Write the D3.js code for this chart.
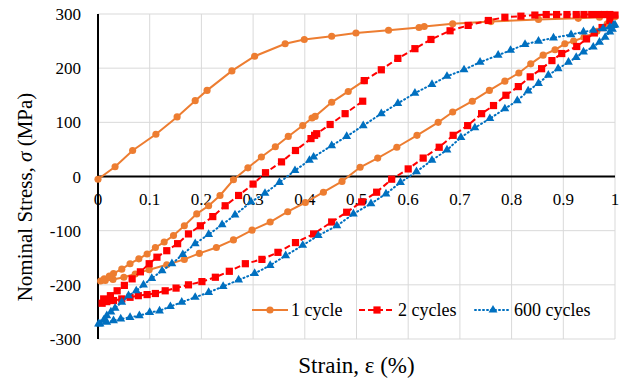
<!DOCTYPE html>
<html>
<head>
<meta charset="utf-8">
<script src="https://cdn.jsdelivr.net/npm/d3@7"></script>
<style>
  body { margin: 0; background: #fff; }
  text { font-family: "Liberation Serif", "Times New Roman", serif; fill: #000; }
</style>
</head>
<body>
<div id="chart-container"></div>
<script>
// 1 cycle: loading, unloading, reloading
const cycle1Strain = [0, 0.033, 0.067, 0.112, 0.153, 0.188, 0.211, 0.259, 0.303, 0.362, 0.399, 0.452, 0.499, 0.562, 0.621, 0.631, 0.686, 0.76, 0.852, 0.929, 0.97, 1.0,
  0.985, 0.965, 0.94, 0.92, 0.903, 0.884, 0.861, 0.837, 0.814, 0.787, 0.757, 0.724, 0.686, 0.658, 0.617, 0.578, 0.541, 0.507, 0.472, 0.436, 0.401, 0.367, 0.333, 0.298, 0.262, 0.229, 0.196, 0.167, 0.133, 0.099, 0.072, 0.05, 0.029, 0.014, 0.005,
  0.012, 0.022, 0.03, 0.046, 0.062, 0.079, 0.095, 0.111, 0.128, 0.146, 0.167, 0.191, 0.214, 0.236, 0.262, 0.29, 0.316, 0.343, 0.368, 0.396, 0.414, 0.42, 0.452, 0.484, 0.515];
const cycle1Stress = [-5, 18, 48, 78, 110, 140, 159, 195, 222, 245, 253, 259, 265, 270, 275, 277, 282, 286, 290, 292, 294, 295,
  282, 268, 257, 250, 245, 234, 224, 208, 191, 176, 159, 139, 119, 100, 76, 54, 34, 17, -9, -29, -48, -65, -84, -99, -117, -131, -142, -153, -163, -172, -180, -186, -190, -192, -193,
  -189, -184, -179, -171, -161, -152, -143, -131, -121, -109, -91, -69, -54, -35, -6, 16, 36, 55, 74, 94, 108, 111, 137, 157, 177];

// 2 cycles: continued loading, unloading, reloading
const cycle2Strain = [0.515, 0.548, 0.58, 0.613, 0.644, 0.681, 0.716, 0.755, 0.787, 0.818, 0.845, 0.867, 0.887, 0.907, 0.925, 0.94, 0.955, 0.968, 0.98, 0.99, 1.0,
  0.99, 0.975, 0.96, 0.945, 0.926, 0.897, 0.878, 0.858, 0.836, 0.813, 0.789, 0.765, 0.742, 0.715, 0.687, 0.66, 0.629, 0.6, 0.568, 0.539, 0.51, 0.481, 0.452, 0.417, 0.382, 0.348, 0.317, 0.285, 0.254, 0.227, 0.201, 0.175, 0.151, 0.13, 0.111, 0.095, 0.078, 0.062, 0.046, 0.03, 0.017, 0.008,
  0.011, 0.024, 0.037, 0.051, 0.066, 0.082, 0.099, 0.114, 0.133, 0.154, 0.175, 0.198, 0.222, 0.246, 0.272, 0.3, 0.324, 0.355, 0.382, 0.412, 0.419, 0.423, 0.449, 0.478, 0.512];
const cycle2Stress = [177, 197, 218, 236, 253, 269, 279, 288, 294, 296, 298, 299, 299, 299, 299, 299, 299, 299, 299, 299, 298,
  288, 275, 265, 254, 240, 227, 214, 199, 184, 166, 150, 131, 116, 94, 76, 54, 34, 14, -5, -29, -47, -66, -84, -106, -122, -140, -153, -161, -175, -186, -194, -200, -206, -211, -216, -218, -220, -223, -226, -229, -231, -234,
  -226, -220, -211, -201, -189, -176, -161, -149, -137, -124, -106, -91, -74, -54, -35, -14, 7, 27, 48, 70, 76, 79, 96, 116, 139];

// 600 cycles: stabilised loop
const cycle600Strain = [0.001, 0.011, 0.017, 0.025, 0.033, 0.046, 0.059, 0.074, 0.088, 0.104, 0.124, 0.143, 0.164, 0.188, 0.214, 0.24, 0.265, 0.296, 0.323, 0.351, 0.381, 0.409, 0.417, 0.452, 0.481, 0.513, 0.548, 0.58, 0.613, 0.646, 0.675, 0.708, 0.739, 0.774, 0.798, 0.826, 0.852, 0.881, 0.915, 0.939, 0.958, 0.977, 0.99, 0.997, 1.0,
  0.995, 0.99, 0.981, 0.97, 0.958, 0.939, 0.925, 0.91, 0.89, 0.871, 0.852, 0.832, 0.811, 0.787, 0.758, 0.729, 0.702, 0.675, 0.646, 0.616, 0.585, 0.557, 0.528, 0.494, 0.462, 0.426, 0.396, 0.363, 0.333, 0.303, 0.272, 0.242, 0.214, 0.188, 0.162, 0.14, 0.119, 0.1, 0.08, 0.062, 0.044, 0.03, 0.017, 0.004];
const cycle600Stress = [-272, -265, -257, -250, -243, -232, -220, -211, -200, -188, -174, -161, -144, -124, -107, -89, -71, -47, -31, -11, 11, 30, 36, 57, 74, 94, 116, 135, 154, 170, 185, 197, 211, 224, 233, 244, 250, 256, 262, 267, 270, 273, 276, 279, 280,
  272, 267, 257, 248, 239, 230, 220, 211, 199, 187, 172, 158, 140, 125, 107, 90, 72, 49, 30, 9, -11, -32, -50, -69, -91, -109, -127, -146, -164, -179, -191, -203, -214, -223, -232, -240, -248, -251, -257, -260, -263, -266, -269, -272];

const xTicks = [0, 0.1, 0.2, 0.3, 0.4, 0.5, 0.6, 0.7, 0.8, 0.9, 1];
const yTicks = [-300, -200, -100, 0, 100, 200, 300];
const seriesNames = ["1 cycle", "2 cycles", "600 cycles"];

const width = 626, height = 380;
const margin = { top: 14, right: 11, bottom: 41, left: 98 };

const svg = d3.select("#chart-container").append("svg")
  .attr("width", width)
  .attr("height", height);

const x = d3.scaleLinear().domain([0, 1]).range([margin.left, width - margin.right]);
const y = d3.scaleLinear().domain([-300, 300]).range([height - margin.bottom, margin.top]);

// grid
svg.append("g").selectAll("line.v").data(xTicks).join("line")
  .attr("x1", d => x(d)).attr("x2", d => x(d))
  .attr("y1", y(300)).attr("y2", y(-300))
  .attr("stroke", "#d9d9d9").attr("stroke-width", 1);
svg.append("g").selectAll("line.h").data(yTicks).join("line")
  .attr("x1", x(0)).attr("x2", x(1))
  .attr("y1", d => y(d)).attr("y2", d => y(d))
  .attr("stroke", "#d9d9d9").attr("stroke-width", 1);

// axes (x axis crosses at stress = 0)
svg.append("line")
  .attr("x1", x(0)).attr("x2", x(1)).attr("y1", y(0)).attr("y2", y(0))
  .attr("stroke", "#000").attr("stroke-width", 2);
svg.append("line")
  .attr("x1", x(0)).attr("x2", x(0)).attr("y1", y(300)).attr("y2", y(-300))
  .attr("stroke", "#000").attr("stroke-width", 2);

// tick labels
svg.append("g").selectAll("text").data(xTicks).join("text")
  .attr("x", d => x(d)).attr("y", y(0) + 28)
  .attr("text-anchor", "middle").attr("font-size", 17)
  .text(d => String(d));
svg.append("g").selectAll("text").data(yTicks).join("text")
  .attr("x", x(0) - 17).attr("y", d => y(d) + 6)
  .attr("text-anchor", "end").attr("font-size", 17)
  .text(d => String(d));

// axis titles
svg.append("text")
  .attr("x", (x(0) + x(1)) / 2).attr("y", 373)
  .attr("text-anchor", "middle").attr("font-size", 23)
  .text("Strain, ε (%)");
const yTitle = svg.append("text")
  .attr("transform", "translate(32, 197) rotate(-90)")
  .attr("text-anchor", "middle").attr("font-size", 21);
yTitle.append("tspan").text("Nominal Stress, ");
yTitle.append("tspan").attr("font-style", "italic").text("σ");
yTitle.append("tspan").text(" (MPa)");

const series = [
  { name: seriesNames[0], xs: cycle1Strain, ys: cycle1Stress, color: "#ED7D31", dash: null, cap: "butt", symbol: d3.symbolCircle, size: 40 },
  { name: seriesNames[1], xs: cycle2Strain, ys: cycle2Stress, color: "#FF0000", dash: "6,3", cap: "butt", symbol: d3.symbolSquare, size: 52 },
  { name: seriesNames[2], xs: cycle600Strain, ys: cycle600Stress, color: "#0070C0", dash: "1,3", cap: "round", symbol: d3.symbolTriangle, size: 34 }
];

const line = d3.line().x(d => x(d[0])).y(d => y(d[1]));

series.forEach(s => {
  const pts = s.xs.map((v, i) => [v, s.ys[i]]);
  const g = svg.append("g");
  g.append("path")
    .datum(pts)
    .attr("fill", "none")
    .attr("stroke", s.color)
    .attr("stroke-width", 2)
    .attr("stroke-linecap", s.cap)
    .attr("stroke-dasharray", s.dash)
    .attr("d", line);
  g.selectAll("path.m").data(pts).join("path")
    .attr("class", "m")
    .attr("transform", d => `translate(${x(d[0])},${y(d[1])})`)
    .attr("d", d3.symbol().type(s.symbol).size(s.size))
    .attr("fill", s.color);
});

// legend
const legendX = [252, 359, 475];
const legend = svg.append("g");
series.forEach((s, i) => {
  const lx = legendX[i];
  legend.append("line")
    .attr("x1", lx).attr("x2", lx + 36).attr("y1", 310).attr("y2", 310)
    .attr("stroke", s.color).attr("stroke-width", 2)
    .attr("stroke-linecap", s.cap)
    .attr("stroke-dasharray", s.dash);
  legend.append("path")
    .attr("transform", `translate(${lx + 18},310)`)
    .attr("d", d3.symbol().type(s.symbol).size(s.size))
    .attr("fill", s.color);
  legend.append("text")
    .attr("x", lx + 39).attr("y", 316)
    .attr("font-size", 18)
    .text(s.name);
});
</script>
</body>
</html>
